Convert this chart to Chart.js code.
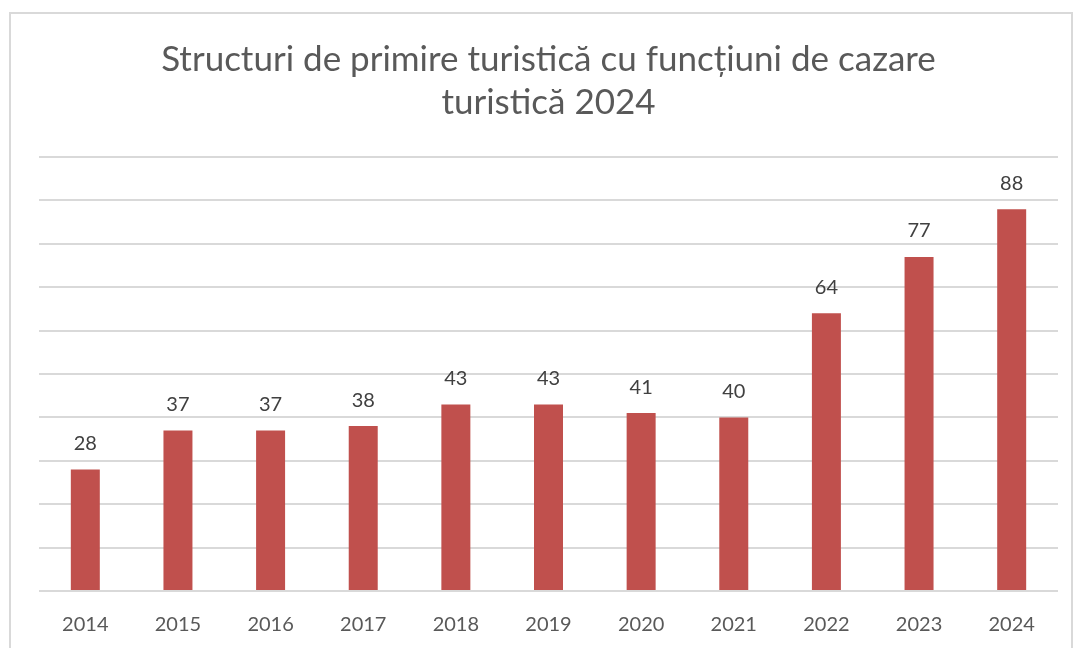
<!DOCTYPE html>
<html>
<head>
<meta charset="utf-8">
<script src="https://cdn.jsdelivr.net/npm/chart.js@4/dist/chart.umd.min.js"></script>
<style>
  html, body { margin: 0; padding: 0; background: #ffffff; overflow: hidden; }
  #wrap { position: absolute; left: 0; top: 0; width: 1075px; height: 648px; overflow: hidden; }
</style>
</head>
<body>
<div id="wrap"><canvas id="chart" width="1075" height="648"></canvas></div>
<script>
const years = ['2014', '2015', '2016', '2017', '2018', '2019', '2020', '2021', '2022', '2023', '2024'];
const structures = [28, 37, 37, 38, 43, 43, 41, 40, 64, 77, 88];
const titleLines = ['Structuri de primire turistică cu funcțiuni de cazare', 'turistică 2024'];

const FONT = 'Lato, "Open Sans", sans-serif';

// frame around the chart object, like the spreadsheet export
const framePlugin = {
    id: 'frame',
    beforeDraw(chart) {
        const ctx = chart.ctx;
        ctx.save();
        ctx.strokeStyle = '#d9d9d9';
        ctx.lineWidth = 2;
        ctx.strokeRect(10, 13, 1062, 700);
        ctx.restore();
    },
};

const valueLabels = {
    id: 'valueLabels',
    afterDatasetsDraw(chart) {
        const ctx = chart.ctx;
        const meta = chart.getDatasetMeta(0);
        ctx.save();
        ctx.font = '20px ' + FONT;
        ctx.fillStyle = '#404040';
        ctx.textAlign = 'center';
        ctx.textBaseline = 'middle';
        meta.data.forEach((bar, i) => {
            ctx.fillText(String(structures[i]), bar.x, bar.y - 26);
        });
        ctx.restore();
    },
};

new Chart(document.getElementById('chart'), {
    type: 'bar',
    data: {
        labels: years,
        datasets: [{
            data: structures,
            backgroundColor: '#c0504d',
            borderColor: '#c0504d',
            borderWidth: 0,
            barPercentage: 0.313,
            categoryPercentage: 1,
        }],
    },
    options: {
        responsive: false,
        animation: false,
        layout: { padding: { top: 17, left: 39, right: 17, bottom: -11 } },
        plugins: {
            legend: { display: false },
            tooltip: { enabled: false },
            title: {
                display: true,
                text: titleLines,
                color: '#595959',
                font: { family: FONT, size: 35, weight: 'normal', lineHeight: 1.23 },
                padding: { top: 21, bottom: 33 },
            },
        },
        scales: {
            x: {
                grid: { display: false, drawTicks: false },
                border: { display: false },
                ticks: { color: '#595959', font: { family: FONT, size: 20 }, padding: 22 },
            },
            y: {
                min: 0,
                max: 100,
                ticks: { display: false, stepSize: 10 },
                grid: { color: '#d9d9d9', lineWidth: 2, drawTicks: false },
                border: { display: false },
            },
        },
    },
    plugins: [framePlugin, valueLabels],
});
</script>
</body>
</html>
